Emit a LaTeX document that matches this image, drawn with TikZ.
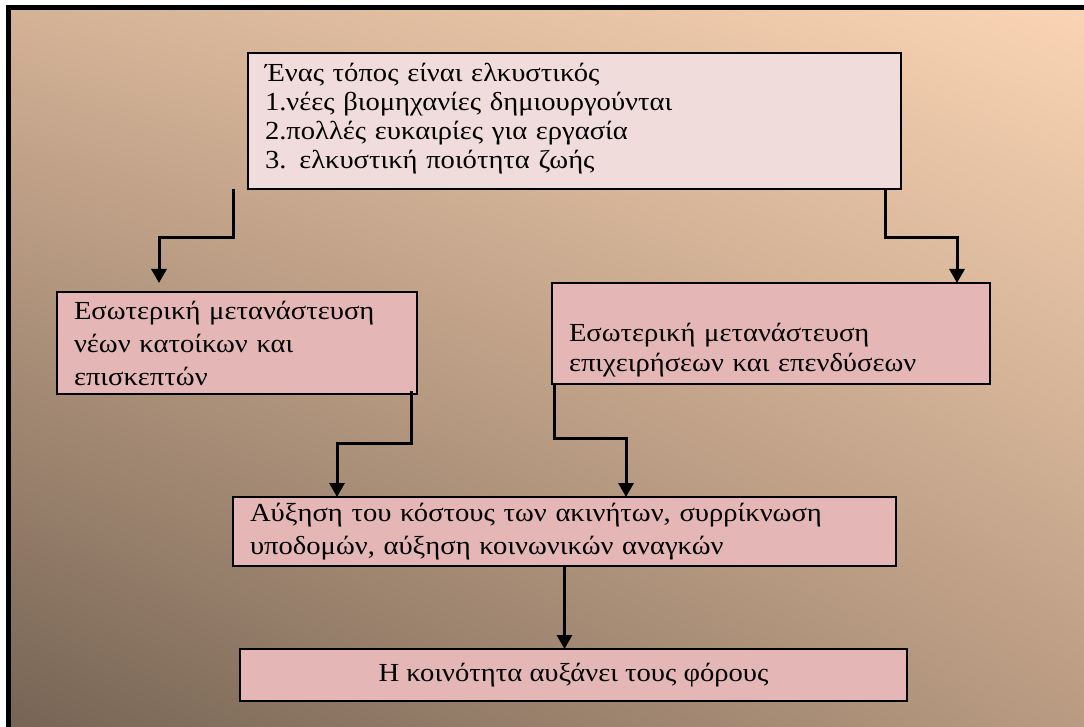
\documentclass[tikz,border=0pt]{standalone}
\usepackage{fontspec}
\setmainfont[FakeStretch=1.1]{Liberation Serif}
\usetikzlibrary{arrows.meta, shadings}
\definecolor{bgtl}{RGB}{212,178,150}
\definecolor{bgtr}{RGB}{250,212,180}
\definecolor{bgbl}{RGB}{118,100,84}
\definecolor{bgbr}{RGB}{185,155,130}
\definecolor{palepink}{RGB}{240,220,218}
\definecolor{rosepink}{RGB}{228,182,182}
\newcommand{\jline}[1]{\makebox[\linewidth][s]{#1}}
\begin{document}
\begin{tikzpicture}[x=1pt, y=-1pt,
    card/.style={draw, line width=2.6pt, fill=rosepink, anchor=north west,
        outer sep=0pt, inner xsep=17pt, inner ysep=0pt, align=left,
        font=\fontsize{26}{33}\selectfont},
    link/.style={line width=3pt, -{Triangle[width=15pt,length=14pt]}}]
    \useasboundingbox (0,0) rectangle (1084,727);
    % Background and frame
    \fill[white] (0,0) rectangle (1084,727);
    \shade[upper left=bgtl, upper right=bgtr, lower left=bgbl, lower right=bgbr]
        (8.5,7.5) rectangle (1084,727);
    \draw[line width=5pt] (8.5,727) -- (8.5,7.5) -- (1084,7.5);
    % Boxes
    \node[card, fill=palepink, text width=619pt, minimum height=136pt,
        font=\fontsize{26}{29}\selectfont] (attract) at (248,53)
        {Ένας τόπος είναι ελκυστικός\\1.νέες βιομηχανίες δημιουργούνται\\2.πολλές ευκαιρίες για εργασία\\3. ελκυστική ποιότητα ζωής\rule[-11pt]{0pt}{0pt}};
    \node[card, text width=326pt, minimum height=102pt] (residents) at (57,292)
        {\jline{Εσωτερική μετανάστευση}\\\jline{νέων κατοίκων και}\\επισκεπτών};
    \node[card, text width=404pt, minimum height=101pt,
        font=\fontsize{26}{30}\selectfont] (business) at (552,283)
        {\strut\\\jline{Εσωτερική μετανάστευση}\\επιχειρήσεων και επενδύσεων};
    \node[card, text width=629pt, minimum height=69pt] (costs) at (233,497)
        {\jline{Αύξηση του κόστους των ακινήτων, συρρίκνωση}\\υποδομών, αύξηση κοινωνικών αναγκών};
    \node[card, align=center, minimum width=667pt, minimum height=52pt] (taxes) at (240,649)
        {Η κοινότητα αυξάνει τους φόρους};
    % Connectors
    \draw[link] ([xshift=-15pt]attract.south west) -- ++(0,49)
        -| ([xshift=102pt,yshift=9pt]residents.north west);
    \draw[link] ([xshift=-16pt]attract.south east) -- ++(0,49)
        -| ([xshift=-33pt]business.north east);
    \draw[link] ([xshift=-6pt,yshift=3pt]residents.south east) -- ++(0,52)
        -| ([xshift=104pt]costs.north west);
    \draw[link] ([xshift=2pt]business.south west) -- ++(0,54)
        -| ([xshift=393pt]costs.north west);
    \draw[link] (costs.south) -- (costs.south |- taxes.north);
\end{tikzpicture}
\end{document}
